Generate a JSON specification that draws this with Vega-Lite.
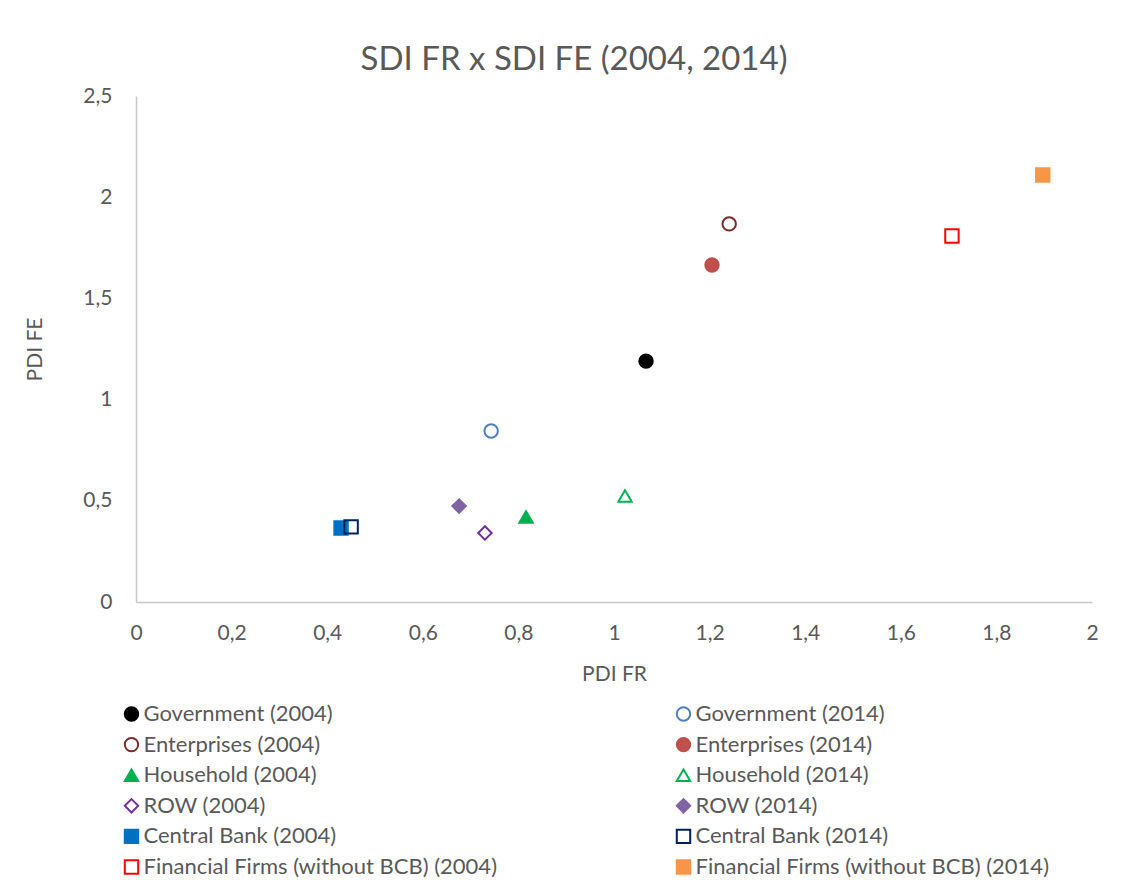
{
  "$schema": "https://vega.github.io/schema/vega-lite/v6.json",
  "width": 956,
  "height": 506,
  "autosize": {"type": "none"},
  "padding": {"left": 136, "top": 96, "right": 37, "bottom": 285},
  "background": "white",
  "title": {
    "text": "SDI FR x SDI FE (2004, 2014)",
    "font": "Lato",
    "fontSize": 33,
    "fontWeight": "normal",
    "color": "#595959",
    "anchor": "middle",
    "dx": -40,
    "offset": 8
  },
  "config": {
    "view": {"stroke": null},
    "font": "Lato"
  },
  "data": {
    "values": [
      {"series": "Government (2004)", "fr": 1.067, "fe": 1.19},
      {"series": "Government (2014)", "fr": 0.743, "fe": 0.845},
      {"series": "Enterprises (2004)", "fr": 1.241, "fe": 1.868},
      {"series": "Enterprises (2014)", "fr": 1.205, "fe": 1.665},
      {"series": "Household (2004)", "fr": 0.816, "fe": 0.42},
      {"series": "Household (2014)", "fr": 1.023, "fe": 0.524},
      {"series": "ROW (2004)", "fr": 0.73, "fe": 0.341},
      {"series": "ROW (2014)", "fr": 0.676, "fe": 0.474},
      {"series": "Central Bank (2004)", "fr": 0.429, "fe": 0.366},
      {"series": "Central Bank (2014)", "fr": 0.45, "fe": 0.371},
      {"series": "Financial Firms (without BCB) (2004)", "fr": 1.707, "fe": 1.808},
      {"series": "Financial Firms (without BCB) (2014)", "fr": 1.897, "fe": 2.11}
    ]
  },
  "mark": {"type": "point", "opacity": 1, "strokeWidth": 2, "size": 180},
  "encoding": {
    "x": {
      "field": "fr",
      "type": "quantitative",
      "scale": {"domain": [0, 2], "nice": false, "zero": true},
      "axis": {
        "title": "PDI FR",
        "values": [0, 0.2, 0.4, 0.6, 0.8, 1, 1.2, 1.4, 1.6, 1.8, 2],
        "labelExpr": "replace(format(datum.value, '.1~f'), '.', ',')",
        "grid": false,
        "ticks": false,
        "domainColor": "#C8C8C8",
        "domainWidth": 1.5,
        "labelFont": "Lato",
        "labelFontSize": 21,
        "labelColor": "#595959",
        "labelPadding": 20,
        "labelFlush": false,
        "titleFont": "Lato",
        "titleFontSize": 21,
        "titleFontWeight": "normal",
        "titleColor": "#595959",
        "titlePadding": 20
      }
    },
    "y": {
      "field": "fe",
      "type": "quantitative",
      "scale": {"domain": [0, 2.5], "nice": false, "zero": true},
      "axis": {
        "title": "PDI FE",
        "values": [0, 0.5, 1, 1.5, 2, 2.5],
        "labelExpr": "replace(format(datum.value, '.1~f'), '.', ',')",
        "grid": false,
        "ticks": false,
        "domainColor": "#C8C8C8",
        "domainWidth": 1.5,
        "labelFont": "Lato",
        "labelFontSize": 21,
        "labelColor": "#595959",
        "labelPadding": 24,
        "labelFlush": false,
        "titleFont": "Lato",
        "titleFontSize": 21,
        "titleFontWeight": "normal",
        "titleColor": "#595959",
        "titlePadding": 37
      }
    },
    "shape": {
      "field": "series",
      "type": "nominal",
      "scale": {
        "domain": ["Government (2004)", "Government (2014)", "Enterprises (2004)", "Enterprises (2014)", "Household (2004)", "Household (2014)", "ROW (2004)", "ROW (2014)", "Central Bank (2004)", "Central Bank (2014)", "Financial Firms (without BCB) (2004)", "Financial Firms (without BCB) (2014)"],
        "range": ["circle", "circle", "circle", "circle", "triangle-up", "triangle-up", "diamond", "diamond", "square", "square", "square", "square"]
      },
      "legend": {
        "title": null,
        "orient": "none",
        "legendX": -15.5,
        "legendY": 607,
        "direction": "horizontal",
        "columns": 2,
        "columnPadding": 175,
        "rowPadding": 8.6,
        "padding": 0,
        "symbolSize": 180,
        "symbolStrokeWidth": 2,
        "labelFont": "Lato",
        "labelFontSize": 22,
        "labelColor": "#595959",
        "labelOffset": 1,
        "labelLimit": 0
      }
    },
    "fill": {
      "field": "series",
      "type": "nominal",
      "scale": {
        "domain": ["Government (2004)", "Government (2014)", "Enterprises (2004)", "Enterprises (2014)", "Household (2004)", "Household (2014)", "ROW (2004)", "ROW (2014)", "Central Bank (2004)", "Central Bank (2014)", "Financial Firms (without BCB) (2004)", "Financial Firms (without BCB) (2014)"],
        "range": ["#000000", "transparent", "transparent", "#C0504D", "#00B050", "transparent", "transparent", "#8064A2", "#0070C0", "transparent", "transparent", "#F79646"]
      }
    },
    "stroke": {
      "field": "series",
      "type": "nominal",
      "scale": {
        "domain": ["Government (2004)", "Government (2014)", "Enterprises (2004)", "Enterprises (2014)", "Household (2004)", "Household (2014)", "ROW (2004)", "ROW (2014)", "Central Bank (2004)", "Central Bank (2014)", "Financial Firms (without BCB) (2004)", "Financial Firms (without BCB) (2014)"],
        "range": ["#000000", "#4F81BD", "#772C2A", "#C0504D", "#00B050", "#00B050", "#7030A0", "#8064A2", "#0070C0", "#002060", "#FF0000", "#F79646"]
      }
    }
  }
}
